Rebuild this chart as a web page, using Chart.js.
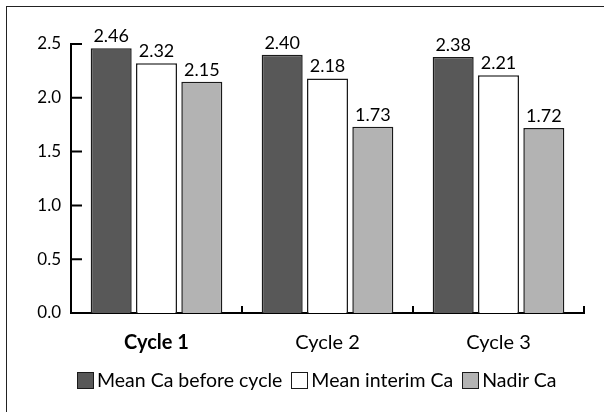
<!DOCTYPE html>
<html>
<head>
<meta charset="utf-8">
<script src="https://cdn.jsdelivr.net/npm/chart.js@4"></script>
<style>
  html, body { margin: 0; padding: 0; background: #fff; }
  #wrap { position: relative; width: 604px; height: 412px; overflow: hidden; font-family: Lato, "Open Sans", sans-serif; }
  #frame { position: absolute; left: 6px; top: 6px; width: 700px; height: 700px;
           border-left: 1.5px solid #222; border-top: 1.5px solid #222; }
  canvas { position: absolute; left: 0; top: 0; }
  #legend { position: absolute; left: 77px; top: 369px; display: flex; align-items: center;
            font-size: 19.5px; line-height: 22px; color: #000; white-space: nowrap; }
  #legend .item { display: flex; align-items: center; margin-right: 9px; }
  #legend .box { width: 15px; height: 15px; border: 1.5px solid #1a1a1a; margin-right: 3px; }
</style>
</head>
<body>
<div id="wrap">
  <div id="frame"></div>
  <canvas id="ca_chart" width="604" height="412"></canvas>
  <div id="legend"></div>
</div>
<script>
const categories = ['Cycle 1', 'Cycle 2', 'Cycle 3'];
const seriesNames = ['Mean Ca before cycle', 'Mean interim Ca', 'Nadir Ca'];
const meanBefore = [2.46, 2.40, 2.38];
const meanInterim = [2.32, 2.18, 2.21];
const nadir = [2.15, 1.73, 1.72];
const yTicks = [0, 0.5, 1.0, 1.5, 2.0, 2.5];

const FONT = 'Lato, "Open Sans", sans-serif';

// value labels above each bar
const valueLabels = {
  id: 'valueLabels',
  afterDatasetsDraw(chart) {
    const ctx = chart.ctx;
    ctx.save();
    ctx.font = '18px ' + FONT;
    ctx.fillStyle = '#000';
    ctx.textAlign = 'center';
    ctx.textBaseline = 'alphabetic';
    chart.data.datasets.forEach(function(ds, i) {
      chart.getDatasetMeta(i).data.forEach(function(bar, j) {
        ctx.fillText(ds.data[j].toFixed(2), bar.x, bar.y - 6);
      });
    });
    ctx.restore();
  }
};

// short tick marks pointing into the plot
const innerTicks = {
  id: 'innerTicks',
  afterDraw(chart) {
    const ctx = chart.ctx;
    const a = chart.chartArea;
    const xs = chart.scales.x, ys = chart.scales.y;
    ctx.save();
    ctx.strokeStyle = '#000';
    ctx.lineWidth = 2;
    ctx.beginPath();
    yTicks.forEach(function(v) {
      const y = ys.getPixelForValue(v);
      ctx.moveTo(a.left, y);
      ctx.lineTo(a.left + 11, y);
    });
    for (let i = 0; i < categories.length; i++) {
      const x = i < categories.length - 1
        ? (xs.getPixelForValue(i) + xs.getPixelForValue(i + 1)) / 2
        : a.right;
      ctx.moveTo(x, a.bottom);
      ctx.lineTo(x, a.bottom - 7);
    }
    ctx.stroke();
    ctx.restore();
  }
};

// legend as html, built from the datasets
function buildLegend(chart) {
  const el = document.getElementById('legend');
  chart.data.datasets.forEach(function(ds) {
    const item = document.createElement('div');
    item.className = 'item';
    const box = document.createElement('span');
    box.className = 'box';
    box.style.background = ds.backgroundColor;
    const txt = document.createElement('span');
    txt.textContent = ds.label;
    item.appendChild(box);
    item.appendChild(txt);
    el.appendChild(item);
  });
}

function createChart() {
  const ctx = document.getElementById('ca_chart');
  const data = {
    labels: categories,
    datasets: [
      { label: seriesNames[0], data: meanBefore, backgroundColor: '#585858' },
      { label: seriesNames[1], data: meanInterim, backgroundColor: '#ffffff' },
      { label: seriesNames[2], data: nadir, backgroundColor: '#b3b3b3' }
    ].map(function(d) {
      d.borderColor = '#1a1a1a';
      d.borderWidth = 1.5;
      d.borderSkipped = 'bottom';
      d.categoryPercentage = 0.795;
      d.barPercentage = 0.905;
      return d;
    })
  };
  const options = {
    responsive: false,
    animation: false,
    layout: { padding: { top: 44, right: 20, left: 0, bottom: 54 } },
    scales: {
      x: {
        grid: { display: false, drawTicks: false },
        border: { display: true, color: '#000', width: 2 },
        ticks: {
          color: '#000',
          padding: 18,
          font: function(c) {
            return { family: FONT, size: 20, weight: c.index === 0 ? 'bold' : 'normal' };
          }
        },
        afterFit: function(s) { s.height = 45; }
      },
      y: {
        min: 0,
        max: 2.5,
        grid: { display: false, drawTicks: false },
        border: { display: true, color: '#000', width: 2 },
        ticks: {
          color: '#000',
          stepSize: 0.5,
          padding: 10,
          font: { family: FONT, size: 17 },
          callback: function(v) { return v.toFixed(1); }
        },
        afterFit: function(s) { s.width = 71; }
      }
    },
    plugins: {
      legend: { display: false },
      tooltip: { enabled: false }
    }
  };
  const chart = new Chart(ctx, { type: 'bar', data: data, options: options, plugins: [valueLabels, innerTicks] });
  buildLegend(chart);
}

createChart();
</script>
</body>
</html>
